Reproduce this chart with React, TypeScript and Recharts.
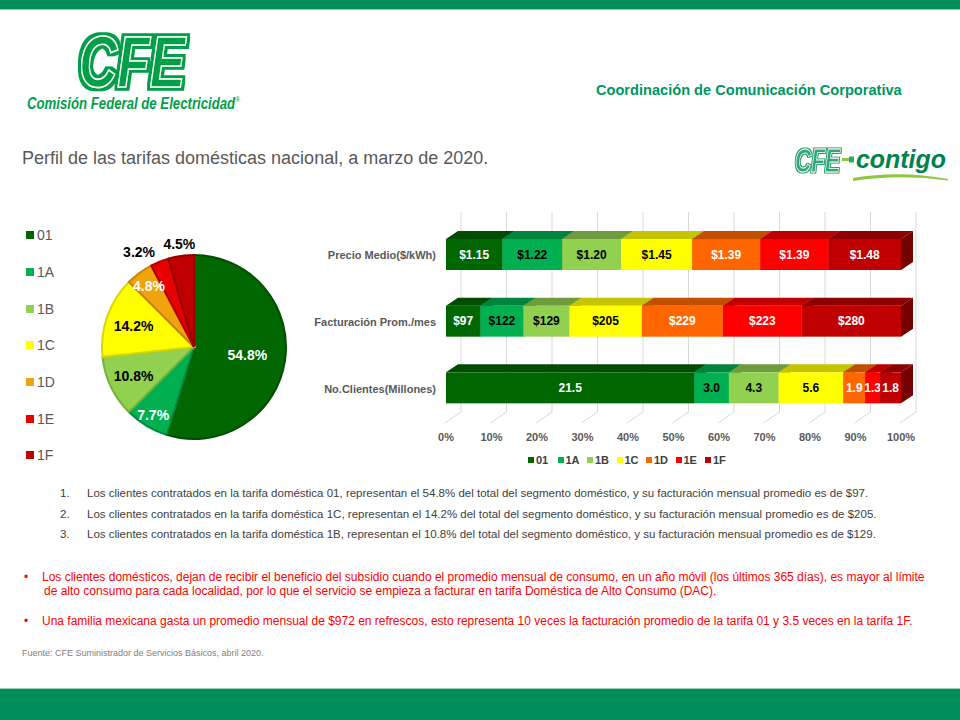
import React from 'react';
import { PieChart, Pie, Cell, BarChart, Bar, XAxis, YAxis, CartesianGrid, Legend } from 'recharts';

// ---------- data ----------
const tariffs = ['01', '1A', '1B', '1C', '1D', '1E', '1F'];
const clientShare = [54.8, 7.7, 10.8, 14.2, 4.8, 3.2, 4.5];
const categories = ['Precio Medio($/kWh)', 'Facturación Prom./mes', 'No.Clientes(Millones)'];
const precioMedio = [1.15, 1.22, 1.2, 1.45, 1.39, 1.39, 1.48];
const facturacion = [97, 122, 129, 205, 229, 223, 280];
const clientes = [21.5, 3.0, 4.3, 5.6, 1.9, 1.3, 1.8];
const xTicks = [0, 0.1, 0.2, 0.3, 0.4, 0.5, 0.6, 0.7, 0.8, 0.9, 1];
const rowPrefix = ['$', '$', ''];
const rowDecimals = [2, 0, 1];

const numberedNotes = [
  'Los clientes contratados en la tarifa doméstica 01, representan el 54.8% del total del segmento doméstico, y su facturación mensual promedio es de $97.',
  'Los clientes contratados en la tarifa doméstica 1C, representan el 14.2% del total del segmento doméstico, y su facturación mensual promedio es de $205.',
  'Los clientes contratados en la tarifa doméstica 1B, representan el 10.8% del total del segmento doméstico, y su facturación mensual promedio es de $129.',
];
const redNote1a = 'Los clientes domésticos, dejan de recibir el beneficio del subsidio cuando el promedio mensual de consumo, en un año móvil (los últimos 365 días), es mayor al límite';
const redNote1b = 'de alto consumo para cada localidad, por lo que el servicio se empieza a facturar en tarifa Doméstica de Alto Consumo (DAC).';
const redNote2 = 'Una familia mexicana gasta un promedio mensual de $972 en refrescos, esto representa 10 veces la facturación promedio de la tarifa 01 y 3.5 veces en la tarifa 1F.';

// ---------- styles ----------
const FONT = '"Liberation Sans", Arial, sans-serif';
const GREEN = '#008F5A';
const pieColors = ['#006600', '#00B050', '#92D050', '#FFFF00', '#F0A30A', '#E60000', '#C00000'];
const pieStroke = ['#004C00', '#00893E', '#77B03C', '#D8D800', '#C88400', '#B80000', '#960000'];
const pieLabelColors = ['#fff', '#fff', '#000', '#000', '#fff', '#000', '#000'];
const pieLabelRadius = [54, 79, 67, 64, 76, 110, 104];
const pieLabelAngleOffset = [0, 0, 0, 0, 0, 8, 0];
const barFront = ['#006600', '#00B050', '#92D050', '#FFFF00', '#FF6600', '#FF0000', '#C00000'];
const barTop = ['#004C00', '#00843C', '#6E9C3C', '#C4C400', '#C24E00', '#C00000', '#8E0000'];
const barSide = ['#003A00', '#006A30', '#587D30', '#A0A000', '#A04000', '#A00000', '#740000'];
const barLabelColors = ['#fff', '#000', '#000', '#000', '#fff', '#fff', '#fff'];
const DX = 12;
const DY = 8;

const pieData = tariffs.map((t, i) => ({ name: t, value: clientShare[i] }));
const seriesByRow = [precioMedio, facturacion, clientes];
const barData = categories.map((c, i) => {
  const row: any = { name: c };
  tariffs.forEach((t, j) => {
    row[t] = seriesByRow[i][j];
  });
  return row;
});

const RAD = Math.PI / 180;

function renderPieLabel(props: any) {
  const { cx, cy, midAngle, index, value } = props;
  const ang = midAngle + pieLabelAngleOffset[index];
  const r = pieLabelRadius[index];
  const x = cx + r * Math.cos(-ang * RAD);
  const y = cy + r * Math.sin(-ang * RAD);
  return (
    <text
      key={`pl-${index}`}
      x={x}
      y={y}
      textAnchor="middle"
      dominantBaseline="central"
      fill={pieLabelColors[index]}
      fontSize={14}
      fontWeight="bold"
      fontFamily={FONT}
    >
      {`${value.toFixed(1)}%`}
    </text>
  );
}

function make3DShape(j: number) {
  return (props: any) => {
    const { x, y, width, height, payload, index } = props;
    if (!width || width <= 0) return <g />;
    const v = payload[tariffs[j]];
    const label = `${rowPrefix[index]}${Number(v).toFixed(rowDecimals[index])}`;
    return (
      <g>
        <path
          d={`M${x},${y} L${x + DX},${y - DY} L${x + width + DX},${y - DY} L${x + width},${y} Z`}
          fill={barTop[j]}
        />
        <path
          d={`M${x + width},${y} L${x + width + DX},${y - DY} L${x + width + DX},${y + height - DY} L${x + width},${y + height} Z`}
          fill={barSide[j]}
        />
        <rect x={x} y={y} width={width} height={height} fill={barFront[j]} />
        <text
          x={x + width / 2}
          y={y + height / 2}
          textAnchor="middle"
          dominantBaseline="central"
          fontSize={12}
          fontWeight="bold"
          fontFamily={FONT}
          fill={barLabelColors[j]}
        >
          {label}
        </text>
      </g>
    );
  };
}

const barShapes = tariffs.map((_, j) => make3DShape(j));

function XTick(props: any) {
  const { x, y, payload } = props;
  return (
    <text x={x} y={y + 16} textAnchor="middle" dominantBaseline="central" fontSize={11} fontWeight="bold" fill="#595959" fontFamily={FONT}>
      {`${Math.round(payload.value * 100)}%`}
    </text>
  );
}

function YTick(props: any) {
  const { x, y, payload } = props;
  return (
    <text x={x} y={y + 1} textAnchor="end" dominantBaseline="central" fontSize={11} fontWeight="bold" fill="#595959" fontFamily={FONT}>
      {payload.value}
    </text>
  );
}

function gridLine(p: any) {
  return (
    <path
      key={`g-${p.index ?? p.x1}`}
      d={`M${p.x1 + 15},${p.y1 - 9} L${p.x1 + 15},${p.y2 - 9} L${p.x1 - 1},${p.y2 + 2}`}
      stroke="#D9D9D9"
      strokeWidth={1}
      fill="none"
    />
  );
}

function PieLegend() {
  return (
    <div style={{ fontFamily: FONT }}>
      {tariffs.map((t, i) => (
        <div key={t} style={{ height: 36.7, display: 'flex', alignItems: 'center', fontSize: 14, color: '#595959' }}>
          <span style={{ width: 8, height: 8, background: pieColors[i], display: 'inline-block', marginRight: 3 }} />
          {t}
        </div>
      ))}
    </div>
  );
}

function BarLegend() {
  return (
    <div style={{ fontFamily: FONT, display: 'flex', fontSize: 11, fontWeight: 'bold', color: '#404040' }}>
      {tariffs.map((t, i) => (
        <div key={t} style={{ width: 29.5, display: 'flex', alignItems: 'center' }}>
          <span style={{ width: 6, height: 6, background: barFront[i], display: 'inline-block', marginRight: 2 }} />
          {t}
        </div>
      ))}
    </div>
  );
}

function Logos() {
  return (
    <svg width={960} height={200} style={{ position: 'absolute', left: 0, top: 0 }}>
      <defs>
        <filter id="outerG" x="-10%" y="-20%" width="120%" height="140%">
          <feMorphology in="SourceAlpha" operator="dilate" radius="2.6" result="d" />
          <feFlood floodColor="#00A04A" />
          <feComposite in2="d" operator="in" result="o" />
          <feMerge>
            <feMergeNode in="o" />
            <feMergeNode in="SourceGraphic" />
          </feMerge>
        </filter>
        <filter id="outerC" x="-10%" y="-20%" width="120%" height="140%">
          <feMorphology in="SourceAlpha" operator="dilate" radius="1.2" result="d" />
          <feFlood floodColor="#1F9A6A" />
          <feComposite in2="d" operator="in" result="o" />
          <feMerge>
            <feMergeNode in="o" />
            <feMergeNode in="SourceGraphic" />
          </feMerge>
        </filter>
      </defs>
      {/* CFE main logo */}
      <g fontFamily={FONT} fontWeight="bold" fontStyle="italic">
        <text x={79} y={87} fontSize={72} textLength={106} lengthAdjust="spacingAndGlyphs" fill="#00A04A" stroke="#fff" strokeWidth={1.6} filter="url(#outerG)">CFE</text>
        <text x={27} y={109} fontSize={16} textLength={213} lengthAdjust="spacingAndGlyphs" fill="#00A04A">
          Comisión Federal de Electricidad
          <tspan fontSize={8} dy={-7} fontStyle="normal" fontWeight="normal">®</tspan>
        </text>
      </g>
      {/* CFE contigo logo */}
      <g fontFamily={FONT} fontWeight="bold" fontStyle="italic">
        <text x={795} y={172} fontSize={33} textLength={45} lengthAdjust="spacingAndGlyphs" fill="#2AAA78" stroke="#fff" strokeWidth={0.8} filter="url(#outerC)">CFE</text>
        <rect x={842} y={158} width={7} height={3} fill="#8DC63F" />
        <rect x={849} y={156.5} width={5} height={6} fill="#2AAA78" />
        <text x={856} y={168} fontSize={25} textLength={90} lengthAdjust="spacingAndGlyphs" fill="#00834E">contigo</text>
        <path d="M853,178 Q900,170 948,179 L948,180.5 Q900,174 853,181 Z" fill="#8DC63F" />
      </g>
    </svg>
  );
}

export default function App() {
  return (
    <div style={{ position: 'absolute', left: 0, top: 0, width: 960, height: 720, overflow: 'hidden', background: '#fff', fontFamily: FONT }}>
      {/* top / bottom bands */}
      <div style={{ position: 'absolute', left: 0, top: 0, width: 960, height: 9, background: GREEN }} />
      <div style={{ position: 'absolute', left: 0, top: 9, width: 960, height: 1, background: '#8CCAB0' }} />
      <div style={{ position: 'absolute', left: 0, top: 688, width: 960, height: 1, background: '#9CCFB8' }} />
      <div style={{ position: 'absolute', left: 0, top: 689, width: 960, height: 31, background: GREEN }} />

      <Logos />

      <div style={{ position: 'absolute', left: 596, top: 82, fontSize: 14.6, fontWeight: 'bold', color: '#00965E', whiteSpace: 'nowrap' }}>
        Coordinación de Comunicación Corporativa
      </div>
      <div style={{ position: 'absolute', left: 22, top: 148, fontSize: 18, color: '#595959', whiteSpace: 'nowrap' }}>
        Perfil de las tarifas domésticas nacional, a marzo de 2020.
      </div>

      {/* Pie chart */}
      <div style={{ position: 'absolute', left: 0, top: 200 }}>
        <PieChart width={300} height={280} margin={{ top: 0, right: 0, bottom: 0, left: 0 }}>
          <Pie
            data={pieData}
            dataKey="value"
            nameKey="name"
            cx={194}
            cy={147}
            outerRadius={92}
            startAngle={90}
            endAngle={-270}
            label={renderPieLabel}
            labelLine={false}
            isAnimationActive={false}
          >
            {pieData.map((d, i) => (
              <Cell key={d.name} fill={pieColors[i]} stroke={pieStroke[i]} strokeWidth={2} />
            ))}
          </Pie>
          <Legend content={<PieLegend />} layout="vertical" wrapperStyle={{ left: 26, top: 17, width: 60 }} />
        </PieChart>
      </div>

      {/* 100% stacked bar chart */}
      <div style={{ position: 'absolute', left: 300, top: 200 }}>
        <BarChart
          width={640}
          height={280}
          data={barData}
          layout="vertical"
          stackOffset="expand"
          margin={{ top: 21, right: 39, bottom: 0, left: 0 }}
        >
          <CartesianGrid horizontal={false} vertical={gridLine as any} />
          <XAxis
            type="number"
            domain={[0, 1]}
            ticks={xTicks}
            axisLine={false}
            tickLine={false}
            tickSize={0}
            tickMargin={0}
            tick={<XTick />}
            interval={0}
            height={59}
          />
          <YAxis
            type="category"
            dataKey="name"
            width={146}
            axisLine={false}
            tickLine={false}
            tickSize={0}
            tickMargin={10}
            tick={<YTick />}
          />
          {tariffs.map((t, j) => (
            <Bar key={t} dataKey={t} stackId="s" barSize={31} fill={barFront[j]} shape={barShapes[j]} isAnimationActive={false} />
          ))}
        </BarChart>
        <div style={{ position: 'absolute', left: 228, top: 254 }}>
          <BarLegend />
        </div>
      </div>

      {/* numbered notes */}
      {numberedNotes.map((n, i) => (
        <React.Fragment key={i}>
          <div style={{ position: 'absolute', left: 60, top: 487 + i * 20.5, fontSize: 11.5, color: '#404040', whiteSpace: 'nowrap' }}>{`${i + 1}.`}</div>
          <div style={{ position: 'absolute', left: 87, top: 487 + i * 20.5, fontSize: 11.5, color: '#404040', whiteSpace: 'nowrap' }}>{n}</div>
        </React.Fragment>
      ))}

      {/* red bullets */}
      <div style={{ position: 'absolute', left: 24, top: 570, fontSize: 12, color: '#FF0000' }}>•</div>
      <div style={{ position: 'absolute', left: 42, top: 570, fontSize: 12, color: '#FF0000', whiteSpace: 'nowrap' }}>{redNote1a}</div>
      <div style={{ position: 'absolute', left: 44, top: 584, fontSize: 12, color: '#FF0000', whiteSpace: 'nowrap' }}>{redNote1b}</div>
      <div style={{ position: 'absolute', left: 24, top: 614, fontSize: 12, color: '#FF0000' }}>•</div>
      <div style={{ position: 'absolute', left: 42, top: 614, fontSize: 12, color: '#FF0000', whiteSpace: 'nowrap' }}>{redNote2}</div>

      <div style={{ position: 'absolute', left: 22, top: 648, fontSize: 9, color: '#808080', whiteSpace: 'nowrap' }}>
        Fuente: CFE Suministrador de Servicios Básicos, abril 2020.
      </div>
    </div>
  );
}
